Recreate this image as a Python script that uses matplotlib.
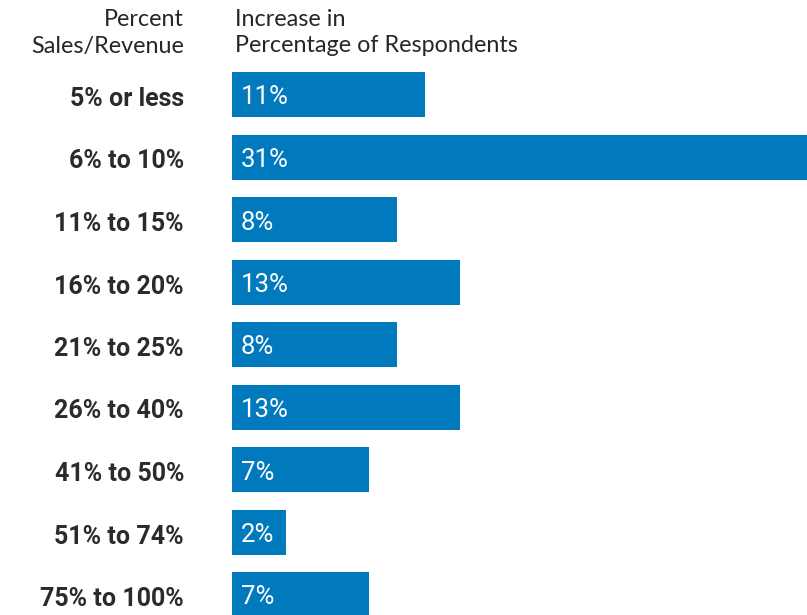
import matplotlib
matplotlib.use("Agg")
import matplotlib.pyplot as plt

categories = ["5% or less", "6% to 10%", "11% to 15%", "16% to 20%", "21% to 25%",
              "26% to 40%", "41% to 50%", "51% to 74%", "75% to 100%"]
pct_labels = [11, 31, 8, 13, 8, 13, 7, 2, 7]
# displayed bar lengths (percent units)
bar_lengths = [11.0, 33.0, 9.4, 13.0, 9.4, 13.0, 7.8, 3.1, 7.8]

W, H = 807, 615
fig = plt.figure(figsize=(W / 100, H / 100), dpi=100)
left_px = 232
ax = fig.add_axes([left_px / W, 0, 1 - left_px / W, 1])

bar_color = "#007ABD"
ypos = list(range(len(categories)))
ax.barh(ypos, bar_lengths, height=0.72, color=bar_color, align="center")

step = 62.5
top_i = -94.5 / step
bot_i = (H - 94.5) / step
ax.set_ylim(bot_i, top_i)
ax.set_xlim(0, (W - left_px) / 17.5)
ax.axis("off")

for y, v in zip(ypos, pct_labels):
    ax.annotate(f"{v}%", xy=(0, y), xytext=(9, -10), textcoords="offset pixels",
                ha="left", va="baseline", color="white", fontsize=18.5,
                family="Roboto", fontweight="normal")

for y, c in zip(ypos, categories):
    ax.annotate(c, xy=(0, y), xytext=(-(left_px - 184), -11.5), textcoords="offset pixels",
                ha="right", va="baseline", color="#2b2b2b", fontsize=18,
                family="Roboto", fontweight="bold", annotation_clip=False)

hdr_color = "#262626"
fs_h = 16.8
fig.text(184 / W, 1 - 19 / H, "Percent", ha="right", va="center",
         fontsize=fs_h, family="Lato", color=hdr_color)
fig.text(184 / W, 1 - 46 / H, "Sales/Revenue", ha="right", va="center",
         fontsize=fs_h, family="Lato", color=hdr_color)
fig.text(235 / W, 1 - 19 / H, "Increase in", ha="left", va="center",
         fontsize=fs_h, family="Lato", color=hdr_color)
fig.text(235 / W, 1 - 46 / H, "Percentage of Respondents", ha="left", va="center",
         fontsize=fs_h, family="Lato", color=hdr_color)

fig.savefig("out.png", dpi=100)
